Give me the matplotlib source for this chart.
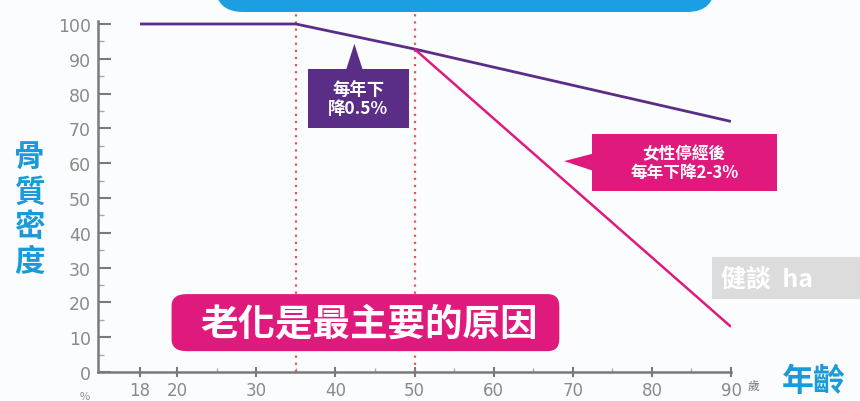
import numpy as np
import matplotlib.pyplot as plt
from matplotlib.patches import FancyBboxPatch, Polygon, Rectangle
from matplotlib.transforms import IdentityTransform
from matplotlib.ticker import FixedLocator

plt.rcParams['font.family'] = ['Noto Sans CJK TC', 'DejaVu Sans']

# data
ages_all = [18, 35, 50, 90]
density_all = [100, 100, 92.8, 72]
ages_women = [50, 90]
density_women = [92.8, 13]
marker_ages = [35, 50]
x_ticks = [18, 20, 30, 40, 50, 60, 70, 80, 90]
x_labels = ['18', '20', '30', '40', '50', '60', '70', '80', '90']
y_ticks = [0, 10, 20, 30, 40, 50, 60, 70, 80, 90, 100]

purple = '#5a2d86'
pink = '#e0197d'
blue = '#1a9ad8'
grey = '#7a7a7a'

# the original axis squeezes the 10-20 span so that 18 sits just right of the axis
_src = [0, 10, 18, 20, 100]
_dst = [0, 10, 15.3, 20, 100]


def fwd(x):
    return np.interp(x, _src, _dst)


def inv(x):
    return np.interp(x, _dst, _src)


fig = plt.figure(figsize=(8.6, 4.02), dpi=100)
fig.patch.set_facecolor('#fbfcfe')
ax = fig.add_axes([0.114, 0.072, 0.736, 0.8745])
ax.set_facecolor('none')
ax.set_xscale('function', functions=(fwd, inv))

ax.plot(ages_all, density_all, color=purple, lw=2, zorder=3, solid_capstyle='butt')
ax.plot(ages_women, density_women, color=pink, lw=1.8, zorder=3, solid_capstyle='butt')
for a in marker_ages:
    ax.plot([a, a], [0, 104], color='#e2595c', lw=1.6, ls=(0, (1, 2.2)),
            zorder=2, clip_on=False)

ax.set_xlim(10, 90)
ax.set_ylim(0, 101)
for s in ['top', 'right']:
    ax.spines[s].set_visible(False)
for s in ['left', 'bottom']:
    ax.spines[s].set_color(grey)
    ax.spines[s].set_linewidth(1.8)

ax.xaxis.set_major_locator(FixedLocator(x_ticks))
ax.set_xticklabels(x_labels)
ax.xaxis.set_minor_locator(FixedLocator([25, 35, 45, 55, 65, 75, 85]))
ax.set_yticks(y_ticks)
ax.yaxis.set_minor_locator(FixedLocator(np.arange(5, 100, 10)))
ax.tick_params(axis='y', which='major', direction='in', length=9, width=1.5,
               color=grey, labelcolor='#8a8a8a', labelsize=12.5, pad=5)
ax.tick_params(axis='y', which='minor', direction='in', length=4, width=1,
               color='#aaaaaa')
ax.tick_params(axis='x', which='major', direction='inout', length=7, width=1.5,
               color=grey, labelcolor='#8a8a8a', labelsize=12, pad=3)
ax.tick_params(axis='x', which='minor', direction='in', length=3, width=1,
               color='#aaaaaa')
for lab in ax.get_xticklabels() + ax.get_yticklabels():
    lab.set_family('DejaVu Sans')

aspect = 7.93 / 3.48  # x pixels per unit over y pixels per unit

# purple callout
ax.add_patch(Rectangle((36.5, 70), 12.8, 17, fc=purple, ec='none', zorder=5))
ax.add_patch(Polygon([[41.3, 86.5], [43.5, 86.5], [42.4, 94.3]], closed=True,
                     fc=purple, ec='none', zorder=5))
ax.text(42.9, 78.5, '每年下\n降0.5%', ha='center', va='center', color='white',
        fontsize=12.5, fontweight='bold', linespacing=1.0, zorder=6)

# pink callout
ax.add_patch(Rectangle((72.4, 52), 23.4, 16.4, fc=pink, ec='none', zorder=5,
                       clip_on=False))
ax.add_patch(Polygon([[72.6, 57.8], [72.6, 62.8], [68.9, 60.6]], closed=True,
                     fc=pink, ec='none', zorder=5, clip_on=False))
ax.text(84.1, 60.2, '女性停經後\n每年下降2-3%', ha='center', va='center',
        color='white', fontsize=12, fontweight='bold', linespacing=1.0,
        zorder=6, clip_on=False)

# big pink banner
ax.add_patch(FancyBboxPatch((19.7, 6), 48.6, 16.4,
                            boxstyle='round,pad=0,rounding_size=1.5',
                            mutation_aspect=aspect, fc=pink, ec='none',
                            zorder=5))
ax.text(44.2, 14.2, '老化是最主要的原因', ha='center', va='center',
        color='white', fontsize=27, fontweight='bold', zorder=6)

# blue banner cut off at the top
fig.patches.append(FancyBboxPatch((215, 389), 500, 60,
                                  boxstyle='round,pad=0,rounding_size=28',
                                  fc='#1b9fe2', ec='none',
                                  transform=IdentityTransform(), figure=fig))

# watermark
fig.patches.append(Rectangle((712, 102), 160, 42, fc='#d9d9d9', ec='none',
                             alpha=0.9, transform=IdentityTransform(),
                             figure=fig, zorder=8))
fig.text(0.838, 0.305, '健談  ha', color='white', fontsize=18, va='center',
         ha='left', fontweight='bold', zorder=9)

# axis titles
fig.text(0.034, 0.478, '骨\n質\n密\n度', color=blue, fontsize=22,
         fontweight='bold', ha='center', va='center', linespacing=1.12)
fig.text(0.909, 0.05, '年齡', color=blue, fontsize=23, fontweight='bold',
         ha='left', va='center')
fig.text(0.876, 0.038, '歲', color='#777777', fontsize=8.5, ha='center',
         va='center')
fig.text(0.099, 0.012, '%', color='#8a8a8a', fontsize=8, ha='center',
         va='center')

fig.savefig('out.png', dpi=100)
